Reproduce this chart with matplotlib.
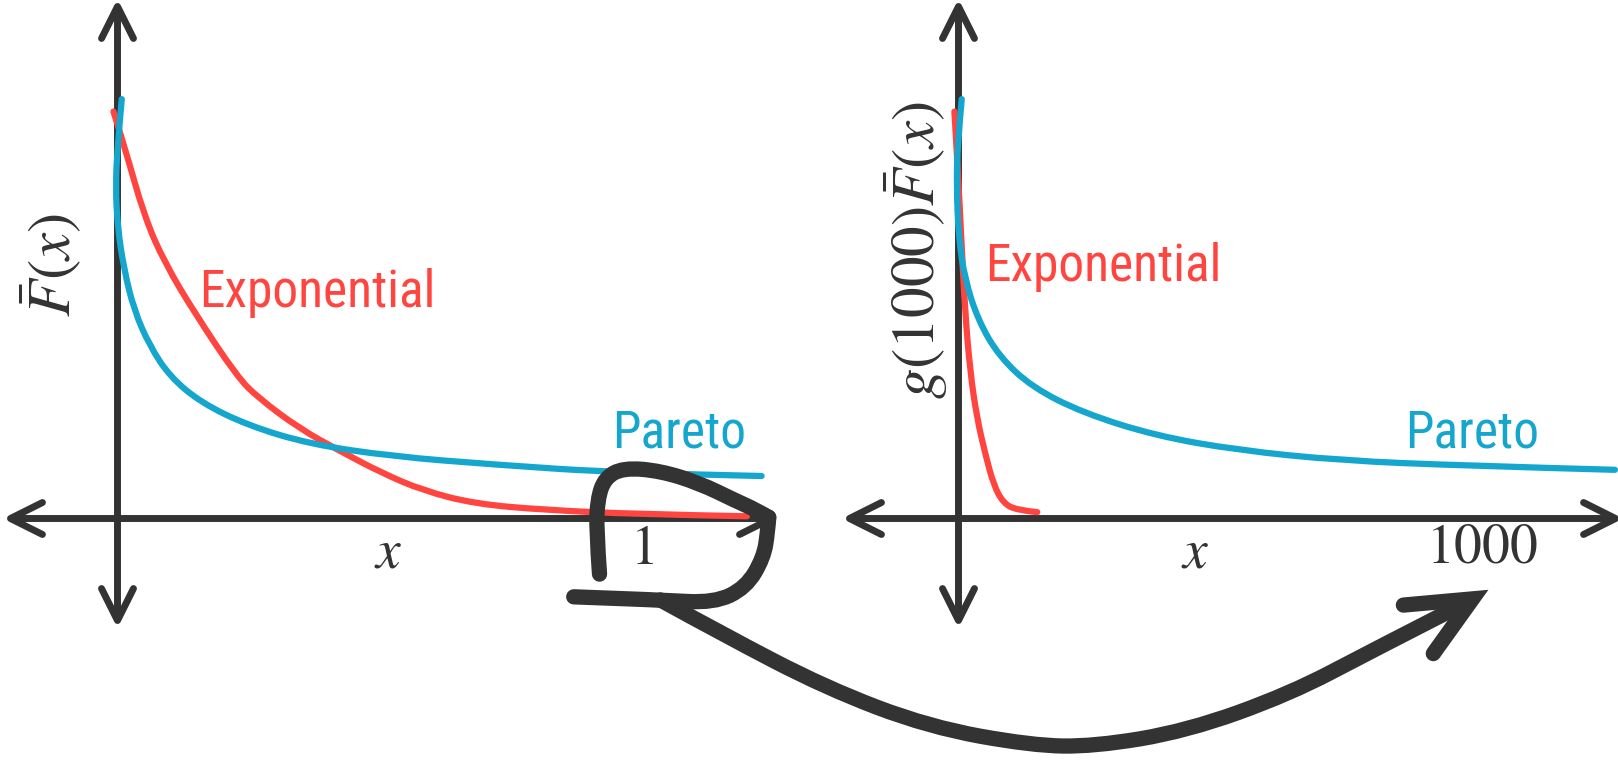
import matplotlib
matplotlib.use("Agg")
import matplotlib.pyplot as plt
from matplotlib import font_manager
from matplotlib.markers import MarkerStyle
from matplotlib.path import Path
from matplotlib.patches import PathPatch
import numpy as np

plt.rcParams["mathtext.fontset"] = "stix"

DARK = "#333333"
RED = "#ff4540"
BLUE = "#14a6cd"

# left panel: tail of the survival function, x on [0, 1]
left_exp_x = [-0.006, 0.014, 0.053, 0.092, 0.151, 0.23, 0.269, 0.348, 0.426, 0.505, 0.583, 0.682, 0.819, 0.996, 1.2]
left_exp_y = [0.985, 0.905, 0.73, 0.6175, 0.4925, 0.3425, 0.2925, 0.2175, 0.1625, 0.11, 0.0675, 0.035, 0.02, 0.01, 0.005]
left_par_x = [0.0098, 0.002, -0.002, 0.002, 0.0138, 0.033, 0.063, 0.102, 0.161, 0.25, 0.367, 0.525, 0.721, 0.957, 1.228]
left_par_y = [1.015, 0.905, 0.805, 0.705, 0.605, 0.505, 0.4175, 0.3425, 0.28, 0.225, 0.18, 0.15, 0.13, 0.11, 0.1025]

# right panel: the same tails rescaled by g(1000), x on [0, 1000]
right_exp_x = [-6, 0, 6, 14, 24, 37, 53, 69, 87, 112, 152]
right_exp_y = [0.985, 0.855, 0.705, 0.505, 0.355, 0.2425, 0.155, 0.08, 0.0375, 0.02, 0.015]
right_par_x = [7.9, 0, -2, 2, 13.8, 39, 79, 142, 240, 378, 535, 732, 969, 1254]
right_par_y = [1.015, 0.905, 0.805, 0.68, 0.58, 0.48, 0.3925, 0.3175, 0.255, 0.2, 0.165, 0.14, 0.1275, 0.1175]

# hand-drawn loop and sweep arrow, in canvas units
loop_a_x = [556, 640, 692, 723, 740, 744, 745]
loop_a_y = [578, 581, 584, 569, 540, 515, 501]
loop_b_x = [745, 733, 711, 678, 640, 604, 586, 579, 578, 581]
loop_b_y = [501, 494, 484, 468, 456, 453, 463, 484, 514, 556]
sweep_x = [640, 700, 800, 900, 1000, 1060, 1150, 1250, 1330, 1420]
sweep_y = [581, 614, 666, 704, 722, 723, 708, 672, 630, 584]
head_x = [1360, 1427, 1389]
head_y = [586, 580, 633]

W, H = 1568, 737


def spline_path(xs, ys):
    pts = np.column_stack([xs, ys]).astype(float)
    verts = [pts[0]]
    codes = [Path.MOVETO]
    for i in range(1, len(pts) - 1):
        end = pts[i + 1] if i == len(pts) - 2 else (pts[i] + pts[i + 1]) / 2
        verts += [pts[i], end]
        codes += [Path.CURVE3, Path.CURVE3]
    if len(pts) == 2:
        verts.append(pts[1])
        codes.append(Path.LINETO)
    return Path(verts, codes)


def stroke(ax, xs, ys, color, lw, z=3):
    ax.add_patch(PathPatch(spline_path(xs, ys), fill=False, edgecolor=color, lw=lw,
                           capstyle="round", joinstyle="round", zorder=z))


def panel(fig, ox, oy, sx, sy):
    ax = fig.add_axes([0, 0, 1, 1])
    ax.set_xlim((0 - ox) / sx, (W - ox) / sx)
    ax.set_ylim((oy - H) / sy, oy / sy)
    ax.axis("off")
    ax.patch.set_alpha(0)
    return ax


def chevron(ax, x, y, angle):
    # open arrow head, tip at (x, y), pointing at angle (degrees)
    t = np.deg2rad(angle)
    c, s = np.cos(t), np.sin(t)
    wing = np.array([[-1.0, 0.5], [0.0, 0.0], [-1.0, -0.5]])
    rot = wing @ np.array([[c, s], [-s, c]])
    m = MarkerStyle(Path(rot), capstyle="round", joinstyle="miter")
    ax.plot([x], [y], marker=m, ms=46, mew=5, mec=DARK, mfc="none", ls="none",
            zorder=2, clip_on=False)


def draw_axes(ax, x0, x1, y0, y1):
    ax.plot([x0, x1], [0, 0], color=DARK, lw=5, zorder=2, solid_capstyle="butt")
    ax.plot([0, 0], [y0, y1], color=DARK, lw=5, zorder=2, solid_capstyle="butt")
    chevron(ax, x0, 0, 180)
    chevron(ax, x1, 0, 0)
    chevron(ax, 0, y0, -90)
    chevron(ax, 0, y1, 90)


def pick_font():
    for name, size in [("Roboto Condensed", 37), ("Liberation Sans Narrow", 37)]:
        try:
            font_manager.findfont(name, fallback_to_default=False)
            return [name, "DejaVu Sans"], size
        except ValueError:
            pass
    return ["Roboto", "DejaVu Sans"], 34


text_font, text_size = pick_font()

fig = plt.figure(figsize=(16.18, 7.61), dpi=100)

# left panel
axl = panel(fig, 113, 502, 509, 400)
draw_axes(axl, -0.203, 1.245, -0.245, 1.24)
stroke(axl, left_exp_x, left_exp_y, RED, 4.5)
stroke(axl, left_par_x, left_par_y, BLUE, 4.5)
axl.text(0.157, 0.5125, "Exponential", color=RED, fontsize=text_size, family=text_font,
         ha="left", va="baseline")
axl.text(0.943, 0.1725, "Pareto", color=BLUE, fontsize=text_size, family=text_font,
         ha="left", va="baseline")
axl.text(-0.124, 0.6125, r"$\bar{F}(x)$", color=DARK, fontsize=44, rotation=90,
         ha="center", va="center")
axl.text(0.517, -0.0825, r"$x$", color=DARK, fontsize=40, ha="center", va="center")
axl.text(1.0, -0.075, r"$1$", color=DARK, fontsize=40, ha="center", va="center")

# right panel
axr = panel(fig, 928, 502, 0.508, 400)
draw_axes(axr, -208, 1254, -0.245, 1.24)
stroke(axr, right_exp_x, right_exp_y, RED, 4.5)
stroke(axr, right_par_x, right_par_y, BLUE, 4.5)
axr.text(53, 0.575, "Exponential", color=RED, fontsize=text_size, family=text_font,
         ha="left", va="baseline")
axr.text(854, 0.1725, "Pareto", color=BLUE, fontsize=text_size, family=text_font,
         ha="left", va="baseline")
axr.text(-79, 0.65, r"$g(1000)\bar{F}(x)$", color=DARK, fontsize=44, rotation=90,
         ha="center", va="center")
axr.text(453, -0.0825, r"$x$", color=DARK, fontsize=40, ha="center", va="center")
axr.text(1000, -0.07, r"$1000$", color=DARK, fontsize=40, ha="center", va="center")

# loop-the-loop arrow carrying the left picture to the right one
axo = panel(fig, 0, 0, 1, -1)
stroke(axo, loop_a_x, loop_a_y, DARK, 11, z=5)
stroke(axo, loop_b_x, loop_b_y, DARK, 11, z=5)
stroke(axo, sweep_x, sweep_y, DARK, 11, z=5)
axo.plot(head_x, head_y, color=DARK, lw=11, solid_capstyle="round",
         solid_joinstyle="miter", zorder=5)

fig.savefig("out.png", dpi=100)
